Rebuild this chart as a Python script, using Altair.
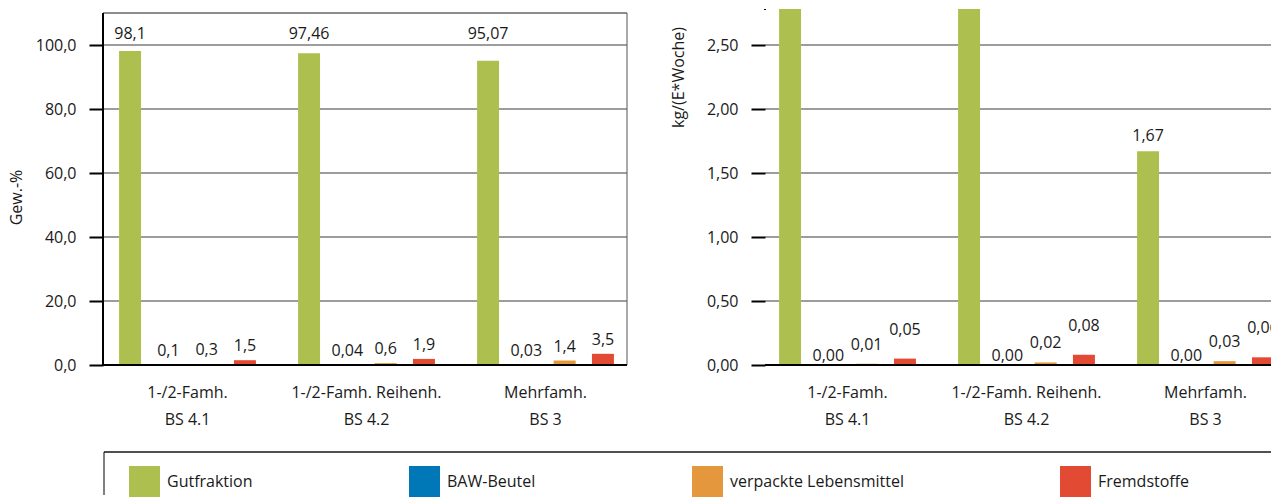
import altair as alt
import pandas as pd

# ---------------- data ----------------
groups = ["1-/2-Famh.|BS 4.1", "1-/2-Famh. Reihenh.|BS 4.2", "Mehrfamh.|BS 3"]
series = ["Gutfraktion", "BAW-Beutel", "verpackte Lebensmittel", "Fremdstoffe"]
colors = ["#ADC04F", "#0077B6", "#E5973E", "#E24A33"]

# Gew.-%
pct_gut = [98.1, 97.46, 95.07]
pct_baw = [0.1, 0.04, 0.03]
pct_verp = [0.3, 0.6, 1.4]
pct_fremd = [1.5, 1.9, 3.5]

# kg/(E*Woche)
kg_gut = [3.27, 3.95, 1.67]
kg_baw = [0.0, 0.0, 0.0]
kg_verp = [0.01, 0.02, 0.03]
kg_fremd = [0.05, 0.08, 0.06]

pct_ticks = [0, 20, 40, 60, 80, 100]
kg_ticks = [0, 0.5, 1.0, 1.5, 2.0, 2.5]


def make_df(cols, fmt):
    rows = []
    for s, vals in zip(series, cols):
        for g, v in zip(groups, vals):
            rows.append({"group": g, "series": s, "value": v, "label": fmt(v)})
    return pd.DataFrame(rows)


df_pct = make_df([pct_gut, pct_baw, pct_verp, pct_fremd],
                 lambda v: str(v).replace(".", ","))
df_kg = make_df([kg_gut, kg_baw, kg_verp, kg_fremd],
                lambda v: f"{v:.2f}".replace(".", ","))
grid_pct = pd.DataFrame({"value": pct_ticks[1:]})
grid_kg = pd.DataFrame({"value": kg_ticks[1:]})
df_groups = pd.DataFrame({"group": groups})

TXT = "#1a1a1a"
FONT = "Open Sans"
LW = 524   # left plot width
RW = 506   # right plot width
H = 356
KG_MAX = 2.78125


def x_enc(rng):
    return alt.X(
        "group:N", sort=groups,
        scale=alt.Scale(domain=groups, range=rng, paddingInner=0, paddingOuter=0),
        axis=None,
    )


xo = alt.XOffset("series:N", sort=series,
                 scale=alt.Scale(domain=series, paddingInner=0.426, paddingOuter=0.55))


def y_enc(domain, ticks, fmt, title, title_y):
    return alt.Y(
        "value:Q",
        scale=alt.Scale(domain=domain, nice=False, zero=True),
        axis=alt.Axis(values=ticks,
                      labelExpr=f"replace(format(datum.value, '{fmt}'), '.', ',')",
                      title=title, titleX=-87, titleY=title_y, titleBaseline="middle",
                      titleFontSize=16, titleFontWeight="normal", titleColor=TXT,
                      titleFont=FONT,
                      tickSize=14, tickWidth=2, tickColor="black", labelPadding=13,
                      domain=False, grid=False,
                      labelFontSize=16, labelColor=TXT, labelFont=FONT),
    )


def group_labels(x):
    return alt.Chart(df_groups).mark_text(
        fontSize=16, baseline="top", color=TXT, font=FONT, lineBreak="|",
        lineHeight=26.5, align="center"
    ).encode(x=x, y=alt.value(H + 20), text="group:N")


color_left = alt.Color(
    "series:N", sort=series,
    scale=alt.Scale(domain=series, range=colors),
    legend=alt.Legend(orient="none", legendX=26, legendY=457, direction="horizontal",
                      columns=4, gridAlign="each", columnPadding=156,
                      symbolType="square", symbolSize=961, symbolStrokeWidth=0,
                      symbolOpacity=1, labelFontSize=16, labelOffset=7, title=None,
                      labelColor=TXT, labelFont=FONT, padding=0, labelLimit=400),
)
color_right = alt.Color("series:N", sort=series,
                        scale=alt.Scale(domain=series, range=colors), legend=None)

# ---------------- left panel ----------------
lbase = alt.Chart(df_pct)
lx = x_enc([-5, 532])
ly = y_enc([0, 111.25], pct_ticks, ".1f", "Gew.-%", 188)

l_grid = alt.Chart(grid_pct).mark_rule(color="#3a3a3a", strokeWidth=1).encode(
    x=alt.value(0), x2=alt.value(LW), y=alt.Y("value:Q"))
l_bars = lbase.mark_bar().encode(x=lx, xOffset=xo, y=ly, color=color_left)
l_txt_big = lbase.mark_text(fontSize=16, baseline="middle", color=TXT, font=FONT, dy=-11.5).encode(
    x=lx, xOffset=xo, y=alt.datum(100), text="label:N"
).transform_filter(alt.datum.series == series[0])
l_txt_small = lbase.mark_text(fontSize=16, baseline="middle", color=TXT, font=FONT, dy=-14).encode(
    x=lx, xOffset=xo, y=ly, text="label:N"
).transform_filter(alt.datum.series != series[0])

l_top = alt.Chart().mark_rule(color="#1a1a1a", strokeWidth=1).encode(
    x=alt.value(0), x2=alt.value(LW), y=alt.datum(110))
l_right = alt.Chart().mark_rule(color="#555555", strokeWidth=1).encode(
    x=alt.value(LW), y=alt.datum(0), y2=alt.datum(110))
l_left = alt.Chart().mark_rule(color="black", strokeWidth=2).encode(
    x=alt.value(0), y=alt.datum(0), y2=alt.datum(110))
l_bottom = alt.Chart().mark_rule(color="black", strokeWidth=2).encode(
    x=alt.value(0), x2=alt.value(LW), y=alt.datum(0))
# legend box
box_top = alt.Chart().mark_rule(color="#505050", strokeWidth=2).encode(
    x=alt.value(1), x2=alt.value(1168), y=alt.value(443))
box_left = alt.Chart().mark_rule(color="black", strokeWidth=1).encode(
    x=alt.value(1), y=alt.value(443), y2=alt.value(486))

left = alt.layer(l_grid, l_bars, l_txt_big, l_txt_small, group_labels(lx), l_top,
                 l_right, l_left, l_bottom, box_top, box_left).properties(width=LW, height=H)

# ---------------- right panel ----------------
rbase = alt.Chart(df_kg)
rx = x_enc([-7, 530])
ry = y_enc([0, KG_MAX], kg_ticks, ".2f", "kg/(E*Woche)", 68)

r_grid = alt.Chart(grid_kg).mark_rule(color="#3a3a3a", strokeWidth=1).encode(
    x=alt.value(0), x2=alt.value(RW), y=alt.Y("value:Q"))
r_bars = rbase.mark_bar(clip=True).encode(x=rx, xOffset=xo, y=ry, color=color_right)


def r_text(s, dy):
    return rbase.mark_text(fontSize=16, baseline="middle", color=TXT, font=FONT,
                           dy=dy, clip=True).encode(
        x=rx, xOffset=xo, y=ry, text="label:N"
    ).transform_filter(alt.datum.series == s).transform_filter(
        alt.datum.value < KG_MAX)


r_bottom = alt.Chart().mark_rule(color="black", strokeWidth=2).encode(
    x=alt.value(0), x2=alt.value(RW), y=alt.datum(0))
r_left = alt.Chart().mark_rule(color="black", strokeWidth=2).encode(
    x=alt.value(0), y=alt.value(1), y2=alt.datum(0))

right = alt.layer(r_grid, r_bars, r_text(series[0], -15.5), r_text(series[1], -9),
                  r_text(series[2], -19), r_text(series[3], -29), group_labels(rx),
                  r_bottom, r_left).properties(width=RW, height=H)

chart = alt.hconcat(left, right, spacing=138, bounds="flush").properties(
    padding=0
).configure(font=FONT).configure_view(strokeWidth=0)

chart.save("out.html", embed_options={"renderer": "svg", "actions": False})
